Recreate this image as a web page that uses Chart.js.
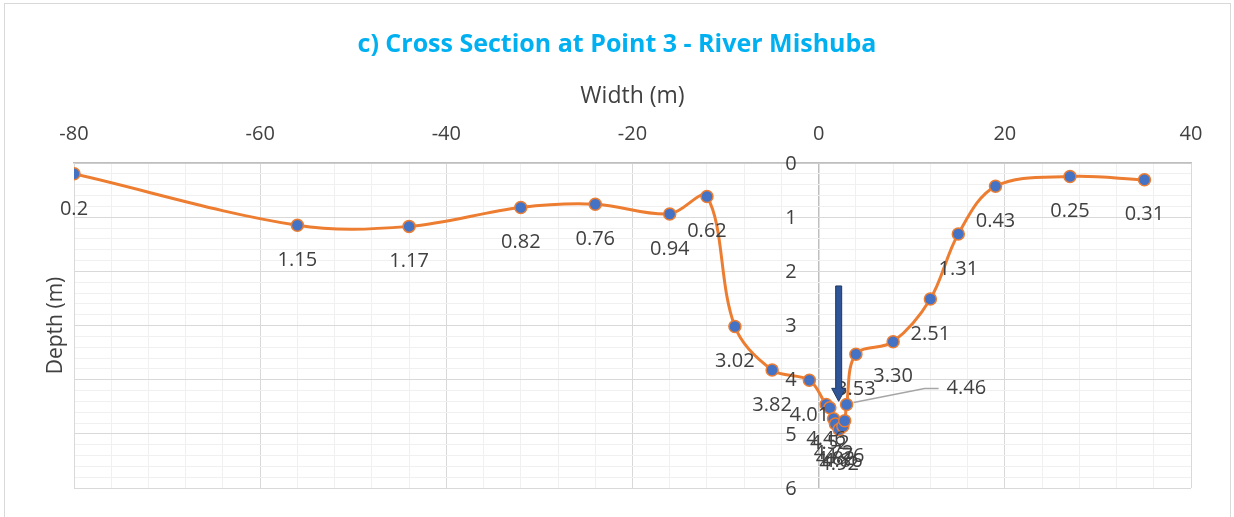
<!DOCTYPE html>
<html>
<head>
<meta charset="utf-8">
<script src="https://cdn.jsdelivr.net/npm/chart.js@4.4.1/dist/chart.umd.min.js"></script>
<style>
  html, body { margin: 0; padding: 0; background: #fff; }
  canvas { display: block; }
</style>
</head>
<body>
<canvas id="section" width="1234" height="517"></canvas>
<script>
// survey points across the river (width in m, depth in m)
var widthM = [-80, -56, -44, -32, -24, -16, -12, -9, -5, -1, 0.8, 1.2, 1.6, 1.8, 2.2, 2.6, 2.8, 3, 4, 8, 12, 15, 19, 27, 35];
var depthM = [0.2, 1.15, 1.17, 0.82, 0.76, 0.94, 0.62, 3.02, 3.82, 4.01, 4.46, 4.52, 4.72, 4.82, 4.92, 4.86, 4.76, 4.46, 3.53, 3.30, 2.51, 1.31, 0.43, 0.25, 0.31];
var depthText = ["0.2", "1.15", "1.17", "0.82", "0.76", "0.94", "0.62", "3.02", "3.82", "4.01", "4.46", "4.52", "4.72", "4.82", "4.92", "4.86", "4.76", "4.46", "3.53", "3.30", "2.51", "1.31", "0.43", "0.25", "0.31"];
var depthTickLabels = ["0", "1", "2", "3", "4", "5", "6"];
var leaderIndex = 17; // this label was pulled out with a leader line

// the arrow marking the deepest point
var arrowX = 2.15;
var arrowFrom = 2.27;
var arrowTo = 4.4;

var textColor = '#404040';
var fontName = '"Open Sans", "DejaVu Sans", sans-serif';

var points = [];
for (var i = 0; i < widthM.length; i++) {
	points.push({x: widthM[i], y: depthM[i]});
}

var frame = {
	id: 'frame',
	beforeDraw: function(chart) {
		var ctx = chart.ctx;
		ctx.save();
		ctx.strokeStyle = '#d9d9d9';
		ctx.lineWidth = 1;
		ctx.strokeRect(4.5, 3.5, chart.width - 8, chart.height + 20);
		ctx.restore();
	}
};

// point labels, y labels next to the axis at width 0 (like excel) and the arrow
var extras = {
	id: 'extras',
	afterDatasetsDraw: function(chart) {
		var ctx = chart.ctx;
		var xs = chart.scales.x;
		var ys = chart.scales.y;
		var meta = chart.getDatasetMeta(0);
		ctx.save();
		ctx.font = '20px ' + fontName;
		ctx.fillStyle = textColor;
		ctx.textBaseline = 'middle';

		var x0 = xs.getPixelForValue(0);
		ctx.textAlign = 'left';
		depthTickLabels.forEach(function(lbl) {
			var w = ctx.measureText(lbl).width;
			ctx.fillText(lbl, x0 - 22 - w, ys.getPixelForValue(Number(lbl)) + 1);
		});

		meta.data.forEach(function(pt, i) {
			if (i === leaderIndex) {
				ctx.strokeStyle = '#a6a6a6';
				ctx.lineWidth = 1.5;
				ctx.beginPath();
				ctx.moveTo(pt.x + 7, pt.y - 2);
				ctx.lineTo(pt.x + 78, pt.y - 16);
				ctx.lineTo(pt.x + 92, pt.y - 16);
				ctx.stroke();
				ctx.textAlign = 'left';
				ctx.fillText(depthText[i], pt.x + 100, pt.y - 16);
			} else {
				ctx.textAlign = 'center';
				ctx.fillText(depthText[i], pt.x, pt.y + 35);
			}
		});

		var ax = xs.getPixelForValue(arrowX);
		var top = ys.getPixelForValue(arrowFrom);
		var tip = ys.getPixelForValue(arrowTo);
		ctx.fillStyle = '#2f5597';
		ctx.strokeStyle = '#1f3864';
		ctx.lineWidth = 1;
		ctx.beginPath();
		ctx.moveTo(ax - 3, top);
		ctx.lineTo(ax + 3, top);
		ctx.lineTo(ax + 3, tip - 13);
		ctx.lineTo(ax + 7, tip - 13);
		ctx.lineTo(ax, tip);
		ctx.lineTo(ax - 7, tip - 13);
		ctx.lineTo(ax - 3, tip - 13);
		ctx.closePath();
		ctx.fill();
		ctx.stroke();
		ctx.restore();
	}
};

var chart = new Chart(document.getElementById('section').getContext('2d'), {
	type: 'scatter',
	data: {
		datasets: [{
			data: points,
			showLine: true,
			tension: 0.35,
			borderColor: '#ed7d31',
			borderWidth: 3,
			pointRadius: 6,
			pointBackgroundColor: '#4472c4',
			pointBorderColor: '#ed7d31',
			pointBorderWidth: 1.5
		}]
	},
	options: {
		responsive: false,
		animation: false,
		layout: { padding: { left: 0, right: 0, top: 0, bottom: 29 } },
		plugins: {
			legend: { display: false },
			tooltip: { enabled: false },
			title: {
				display: true,
				text: 'c) Cross Section at Point 3 - River Mishuba',
				color: '#00b0f0',
				font: { family: fontName, size: 25, weight: 'bold' },
				padding: { top: 30, bottom: 7 }
			}
		},
		scales: {
			x: {
				type: 'linear',
				position: 'top',
				min: -80,
				max: 40,
				afterFit: function(scale) { scale.height = 96; },
				ticks: {
					stepSize: 4,
					autoSkip: false,
					maxRotation: 0,
					padding: 17,
					color: textColor,
					font: { family: fontName, size: 20 },
					callback: function(v) { return v % 20 === 0 ? String(v) : ''; }
				},
				grid: {
					drawTicks: false,
					color: function(c) {
						var v = c.tick.value;
						if (v === 0) return '#bfbfbf';
						return v % 20 === 0 ? '#d9d9d9' : '#f0f0f0';
					},
					lineWidth: function(c) { return c.tick.value === 0 ? 1.5 : 1; }
				},
				border: { color: '#bfbfbf', width: 1.5 },
				title: {
					display: true,
					text: 'Width (m)',
					color: textColor,
					font: { family: fontName, size: 23 },
					padding: { top: 16, bottom: 0 }
				}
			},
			y: {
				type: 'linear',
				position: 'left',
				reverse: true,
				min: 0,
				max: 6,
				afterFit: function(scale) { scale.width = 74; },
				ticks: { display: false, stepSize: 0.2, autoSkip: false },
				grid: {
					drawTicks: false,
					color: function(c) {
						var v = Math.round(c.tick.value * 10) / 10;
						return v % 1 === 0 ? '#d9d9d9' : '#f0f0f0';
					}
				},
				border: { color: '#d9d9d9' },
				title: {
					display: true,
					text: 'Depth (m)',
					color: textColor,
					font: { family: fontName, size: 21 },
					padding: { top: 43, bottom: 6 }
				}
			},
			// empty axis on the right, only keeps the margin there
			yRight: {
				type: 'linear',
				position: 'right',
				min: 0,
				max: 6,
				afterFit: function(scale) { scale.width = 43; },
				ticks: { display: false },
				grid: { display: false, drawOnChartArea: false },
				border: { display: false }
			}
		}
	},
	plugins: [frame, extras]
});
</script>
</body>
</html>
